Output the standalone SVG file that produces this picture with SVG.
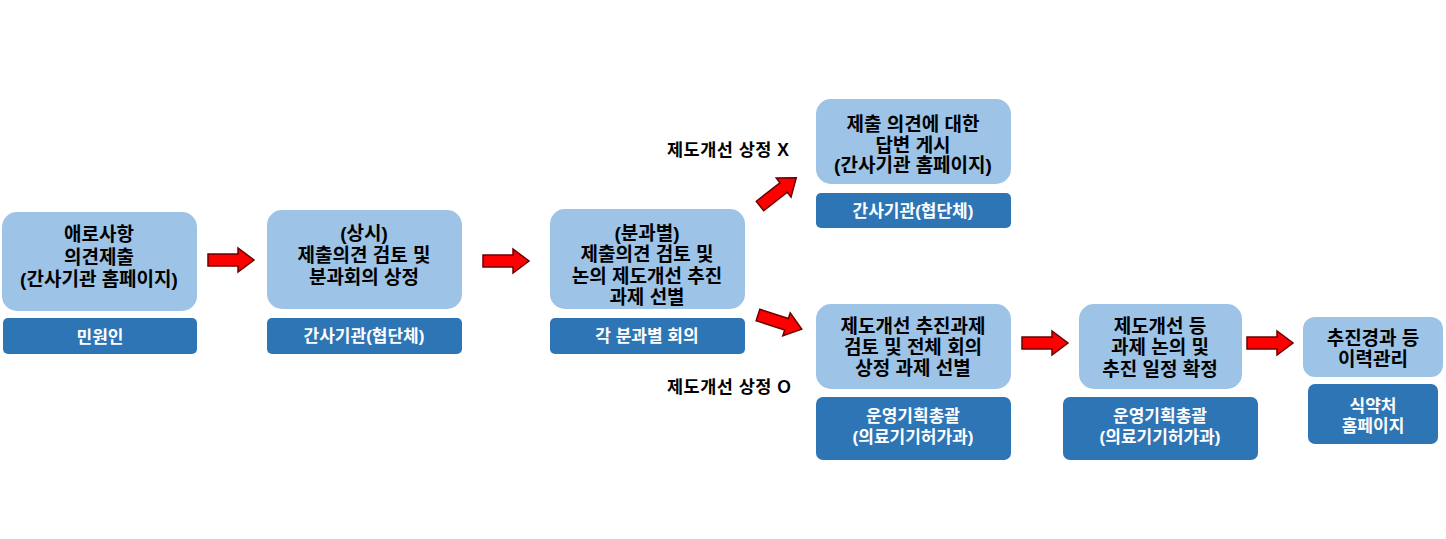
<svg xmlns="http://www.w3.org/2000/svg" width="1446" height="539" viewBox="0 0 1446 539">
<style>
.lt{fill:#9DC3E6}
.dk{fill:#2E75B6}
.t{font-family:"Liberation Sans","Noto Sans CJK KR",sans-serif;font-weight:bold;font-size:19px;fill:#000;text-anchor:middle}
.w{font-family:"Liberation Sans","Noto Sans CJK KR",sans-serif;font-weight:bold;font-size:17px;fill:#fff;text-anchor:middle}
.lb{font-family:"Liberation Sans","Noto Sans CJK KR",sans-serif;font-weight:bold;font-size:17.5px;fill:#000;letter-spacing:0.5px}
.arr{fill:#FF0000;stroke:#6B0000;stroke-width:1.5;stroke-linejoin:miter}
</style>
<defs>
<polygon id="arrow" points="0,-6 30,-6 30,-12 46,0 30,12 30,6 0,6"/>
</defs>
<rect width="1446" height="539" fill="#fff"/>

<g id="node1">
<rect class="lt" x="2" y="212" width="195" height="99" rx="15"/>
<text class="t" x="99" y="241">애로사항</text>
<text class="t" x="99" y="264">의견제출</text>
<text class="t" x="99" y="286">(간사기관 홈페이지)</text>
<rect class="dk" x="3" y="318" width="194" height="36" rx="5"/>
<text class="w" x="100" y="343">민원인</text>
</g>

<g id="node2">
<rect class="lt" x="267" y="210" width="195" height="99" rx="15"/>
<text class="t" x="364" y="240">(상시)</text>
<text class="t" x="364" y="262">제출의견 검토 및</text>
<text class="t" x="364" y="284">분과회의 상정</text>
<rect class="dk" x="267" y="318" width="195" height="36" rx="5"/>
<text class="w" x="364" y="342">간사기관(협단체)</text>
</g>

<g id="node3">
<rect class="lt" x="550" y="209" width="195" height="100" rx="15"/>
<text class="t" x="647" y="240">(분과별)</text>
<text class="t" x="647" y="261">제출의견 검토 및</text>
<text class="t" x="647" y="283">논의 제도개선 추진</text>
<text class="t" x="647" y="304">과제 선별</text>
<rect class="dk" x="550" y="318" width="195" height="36" rx="5"/>
<text class="w" x="647" y="342">각 분과별 회의</text>
</g>

<g id="node4">
<rect class="lt" x="816" y="99" width="195" height="85" rx="15"/>
<text class="t" x="913" y="131">제출 의견에 대한</text>
<text class="t" x="913" y="152">답변 게시</text>
<text class="t" x="913" y="172">(간사기관 홈페이지)</text>
<rect class="dk" x="816" y="193" width="195" height="35" rx="5"/>
<text class="w" x="913" y="217">간사기관(협단체)</text>
</g>

<g id="node5">
<rect class="lt" x="816" y="304" width="195" height="85" rx="15"/>
<text class="t" x="913" y="333">제도개선 추진과제</text>
<text class="t" x="913" y="354">검토 및 전체 회의</text>
<text class="t" x="913" y="375">상정 과제 선별</text>
<rect class="dk" x="816" y="397" width="195" height="63" rx="7"/>
<text class="w" x="913" y="422">운영기획총괄</text>
<text class="w" x="913" y="443">(의료기기허가과)</text>
</g>

<g id="node6">
<rect class="lt" x="1079" y="304" width="163" height="85" rx="15"/>
<text class="t" x="1160" y="333">제도개선 등</text>
<text class="t" x="1160" y="354">과제 논의 및</text>
<text class="t" x="1160" y="376">추진 일정 확정</text>
<rect class="dk" x="1063" y="397" width="195" height="63" rx="7"/>
<text class="w" x="1160" y="422">운영기획총괄</text>
<text class="w" x="1160" y="443">(의료기기허가과)</text>
</g>

<g id="node7">
<rect class="lt" x="1303" y="317" width="140" height="60" rx="12"/>
<text class="t" x="1373" y="345">추진경과 등</text>
<text class="t" x="1373" y="366">이력관리</text>
<rect class="dk" x="1308" y="384" width="130" height="60" rx="7"/>
<text class="w" x="1373" y="412">식약처</text>
<text class="w" x="1373" y="432">홈페이지</text>
</g>

<g id="labels">
<text class="lb" x="667" y="156">제도개선 상정 X</text>
<text class="lb" x="667" y="393">제도개선 상정 O</text>
</g>

<g id="connectors">
<use href="#arrow" class="arr" transform="translate(208,260)"/>
<use href="#arrow" class="arr" transform="translate(483,261)"/>
<use href="#arrow" class="arr" transform="translate(760,206) rotate(-38)"/>
<use href="#arrow" class="arr" transform="translate(758,315) rotate(18)"/>
<use href="#arrow" class="arr" transform="translate(1022,343)"/>
<use href="#arrow" class="arr" transform="translate(1247,343)"/>
</g>
</svg>
